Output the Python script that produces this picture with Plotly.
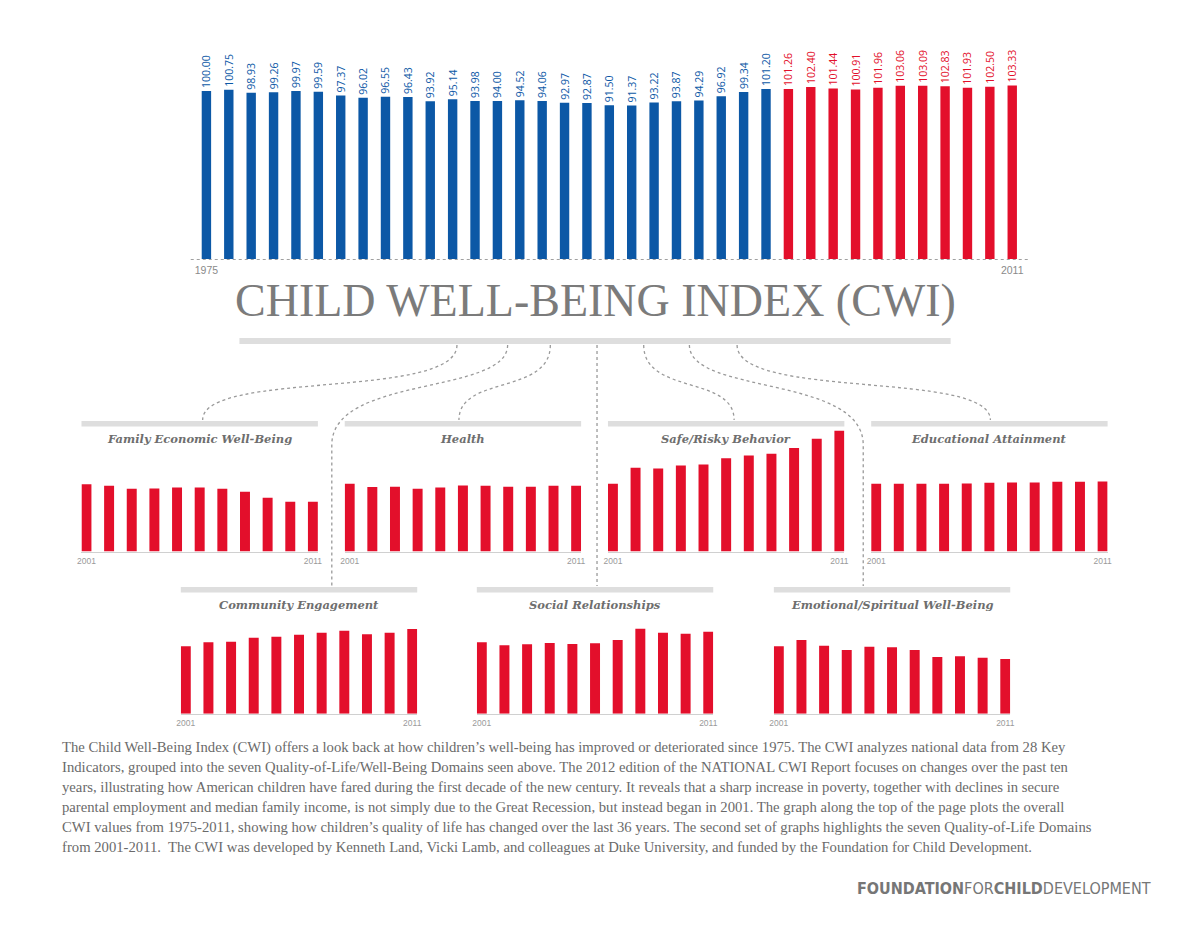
import plotly.graph_objects as go

W, H = 1200, 927

# ---------------- data ----------------
years = list(range(1975, 2012))
cwi_values = [100.00, 100.75, 98.93, 99.26, 99.97, 99.59, 97.37, 96.02, 96.55, 96.43,
              93.92, 95.14, 93.98, 94.00, 94.52, 94.06, 92.97, 92.87, 91.50, 91.37,
              93.22, 93.87, 94.29, 96.92, 99.34, 101.20,
              101.26, 102.40, 101.44, 100.91, 101.96, 103.06, 103.09, 102.83, 101.93, 102.50, 103.33]
main_tick_labels = ["1975", "2011"]

domain_years = list(range(2001, 2012))
domain_tick_labels = ["2001", "2011"]
domain_names = ["Family Economic Well-Being", "Health", "Safe/Risky Behavior",
                "Educational Attainment", "Community Engagement", "Social Relationships",
                "Emotional/Spiritual Well-Being"]
family_economic = [99.5, 97.0, 92.6, 93.1, 94.6, 94.6, 92.6, 88.2, 79.3, 73.4, 73.4]
health = [100.0, 95.1, 95.6, 92.6, 94.6, 97.5, 97.0, 95.6, 95.6, 97.0, 97.0]
safe_risky = [100.0, 123.6, 122.7, 127.1, 128.6, 137.9, 141.9, 144.3, 152.7, 166.5, 178.3]
educational = [100.0, 100.0, 100.0, 100.0, 100.5, 101.5, 102.0, 102.0, 103.0, 103.0, 103.4]
community = [99.5, 105.4, 106.4, 112.3, 113.8, 116.7, 119.7, 122.7, 117.2, 119.7, 125.1]
social = [105.4, 101.0, 102.5, 104.4, 103.0, 103.9, 108.9, 125.6, 119.7, 118.2, 121.2]
emotional = [99.5, 108.9, 100.5, 94.1, 99.0, 98.0, 94.1, 83.7, 84.7, 82.8, 80.8]
domain_values = [family_economic, health, safe_risky, educational, community, social, emotional]

paragraph_lines = [
    "The Child Well-Being Index (CWI) offers a look back at how children\u2019s well-being has improved or deteriorated since 1975. The CWI analyzes national data from 28 Key",
    "Indicators, grouped into the seven Quality-of-Life/Well-Being Domains seen above. The 2012 edition of the NATIONAL CWI Report focuses on changes over the past ten",
    "years, illustrating how American children have fared during the first decade of the new century. It reveals that a sharp increase in poverty, together with declines in secure",
    "parental employment and median family income, is not simply due to the Great Recession, but instead began in 2001. The graph along the top of the page plots the overall",
    "CWI values from 1975-2011, showing how children\u2019s quality of life has changed over the last 36 years. The second set of graphs highlights the seven Quality-of-Life Domains",
    "from 2001-2011.  The CWI was developed by Kenneth Land, Vicki Lamb, and colleagues at Duke University, and funded by the Foundation for Child Development.",
]

# ---------------- style ----------------
BLUE = "#0c58a6"
RED = "#e30f2b"
GRAY_BAR = "#dedede"
DOT = "#9a9a9a"


def fx(px):
    return px / W


def fy(py):
    return 1 - py / H


fig = go.Figure()
layout = dict(
    width=W, height=H, margin=dict(l=0, r=0, t=0, b=0),
    paper_bgcolor="white", plot_bgcolor="rgba(0,0,0,0)",
    showlegend=False,
)
shapes = []
annotations = []

# ---------------- main chart ----------------
main_colors = [BLUE if y < 2001 else RED for y in years]
fig.add_trace(go.Bar(
    x=years, y=cwi_values, marker=dict(color=main_colors, line=dict(width=0)),
    text=[f"{v:.2f}" for v in cwi_values], textposition="outside", textangle=-90,
    textfont=dict(family="Open Sans", size=10.5, color=main_colors),
    cliponaxis=False, constraintext="none", width=0.42, hoverinfo="skip",
    xaxis="x", yaxis="y",
))
main_px_per_unit = 1.68
main_base, main_top = 259, 50
layout["xaxis"] = dict(domain=[fx(188), fx(1031)], range=[1974.30, 2011.71],
                       tickvals=[1975, 2011], ticktext=main_tick_labels,
                       tickfont=dict(family="Liberation Sans", size=10.5, color="#8a8a8a"),
                       ticklabelstandoff=3,
                       showgrid=False, zeroline=False, showline=False, ticks="",
                       anchor="y", fixedrange=True)
layout["yaxis"] = dict(domain=[fy(main_base), fy(main_top)],
                       range=[0, (main_base - main_top) / main_px_per_unit],
                       visible=False, anchor="x", fixedrange=True)
shapes.append(dict(type="line", xref="paper", yref="paper", x0=fx(188), x1=fx(1031),
                   y0=fy(main_base + 0.5), y1=fy(main_base + 0.5),
                   line=dict(color="#a0a0a0", width=1, dash="dot")))

# title
annotations.append(dict(text="CHILD WELL-BEING INDEX (CWI)", xref="paper", yref="paper",
                        x=fx(595), y=fy(301), xanchor="center", yanchor="middle",
                        showarrow=False,
                        font=dict(family="Liberation Serif", size=46, color="#7b7b7b")))
shapes.append(dict(type="rect", xref="paper", yref="paper", x0=fx(237), x1=fx(953),
                   y0=fy(344), y1=fy(338), fillcolor=GRAY_BAR, line=dict(width=0)))

# ---------------- domain panels ----------------
panel_left = [78, 343, 608, 873, 178, 476, 775]
panel_base = [551.5, 551.5, 551.5, 551.5, 713.7, 713.7, 713.7]
panel_bar_top = [421, 421, 421, 421, 587, 587, 587]
panel_title_y = [439, 439, 439, 439, 605, 605, 605]
PANEL_W = 238
sub_px_per_unit = 0.677
sub_h = 135

for i, (name, vals) in enumerate(zip(domain_names, domain_values)):
    k = i + 2
    xa, ya = f"x{k}", f"y{k}"
    fig.add_trace(go.Bar(x=domain_years, y=vals, marker=dict(color=RED, line=dict(width=0)),
                         width=0.44, hoverinfo="skip", xaxis=xa, yaxis=ya))
    L = panel_left[i]
    pitch = (PANEL_W - 10) / 10
    pad = 5 / pitch
    layout[f"xaxis{k}"] = dict(domain=[fx(L), fx(L + PANEL_W)],
                               range=[2001 - pad, 2011 + pad],
                               tickvals=[2001, 2011], ticktext=domain_tick_labels,
                               tickfont=dict(family="Liberation Sans", size=8.5, color="#9a9a9a"),
                               ticklabelstandoff=1,
                               showgrid=False, zeroline=False, showline=True,
                               linecolor="#d0d0d0", linewidth=1, ticks="",
                               anchor=ya, fixedrange=True)
    b = panel_base[i]
    layout[f"yaxis{k}"] = dict(domain=[fy(b), fy(b - sub_h)],
                               range=[0, sub_h / sub_px_per_unit],
                               visible=False, anchor=xa, fixedrange=True)
    t = panel_bar_top[i]
    shapes.append(dict(type="rect", xref="paper", yref="paper", x0=fx(L), x1=fx(L + PANEL_W),
                       y0=fy(t + 5.5), y1=fy(t), fillcolor=GRAY_BAR, line=dict(width=0)))
    annotations.append(dict(text=name, xref="paper", yref="paper",
                            x=fx(L + PANEL_W / 2), y=fy(panel_title_y[i]),
                            xanchor="center", yanchor="middle", showarrow=False,
                            font=dict(family="DejaVu Serif", size=11.5, color="#6e6e6e",
                                      weight="bold", style="italic")))

# ---------------- dotted connectors ----------------
def path(pts_cmds):
    out = []
    for cmd, pts in pts_cmds:
        coords = " ".join(f"{fx(x):.5f},{fy(y):.5f}" for x, y in pts)
        out.append(f"{cmd}{coords}")
    return " ".join(out)


connectors = [
    [("M", [(456, 345)]), ("C", [(456, 400), (200, 370), (200, 420)])],
    [("M", [(507, 345)]), ("C", [(507, 395), (330, 375), (330, 445)]), ("L", [(330, 586)])],
    [("M", [(550, 345)]), ("C", [(550, 395), (458, 375), (458, 420)])],
    [("M", [(597, 345)]), ("L", [(597, 586)])],
    [("M", [(644, 345)]), ("C", [(644, 395), (735, 375), (735, 420)])],
    [("M", [(690, 345)]), ("C", [(690, 395), (865, 375), (865, 445)]), ("L", [(865, 586)])],
    [("M", [(738, 345)]), ("C", [(738, 400), (993, 370), (993, 420)])],
]
for c in connectors:
    shapes.append(dict(type="path", xref="paper", yref="paper", path=path(c),
                       line=dict(color=DOT, width=1.3, dash="dot"), layer="below"))

# ---------------- paragraph ----------------
for j, line in enumerate(paragraph_lines):
    annotations.append(dict(text=line, xref="paper", yref="paper", x=fx(56), y=fy(747 + 20 * j),
                            xanchor="left", yanchor="middle", showarrow=False,
                            font=dict(family="Liberation Serif", size=14.7, color="#6a6a6a")))

# ---------------- logo ----------------
annotations.append(dict(text="<b>FOUNDATION</b>FOR<b>CHILD</b>DEVELOPMENT", xref="paper", yref="paper",
                        x=fx(1157), y=fy(888), xanchor="right", yanchor="middle", showarrow=False,
                        font=dict(family="DejaVu Sans Condensed", size=16, color="#767676")))

layout["shapes"] = shapes
layout["annotations"] = annotations
fig.update_layout(**layout)
fig.write_html("out.html")
